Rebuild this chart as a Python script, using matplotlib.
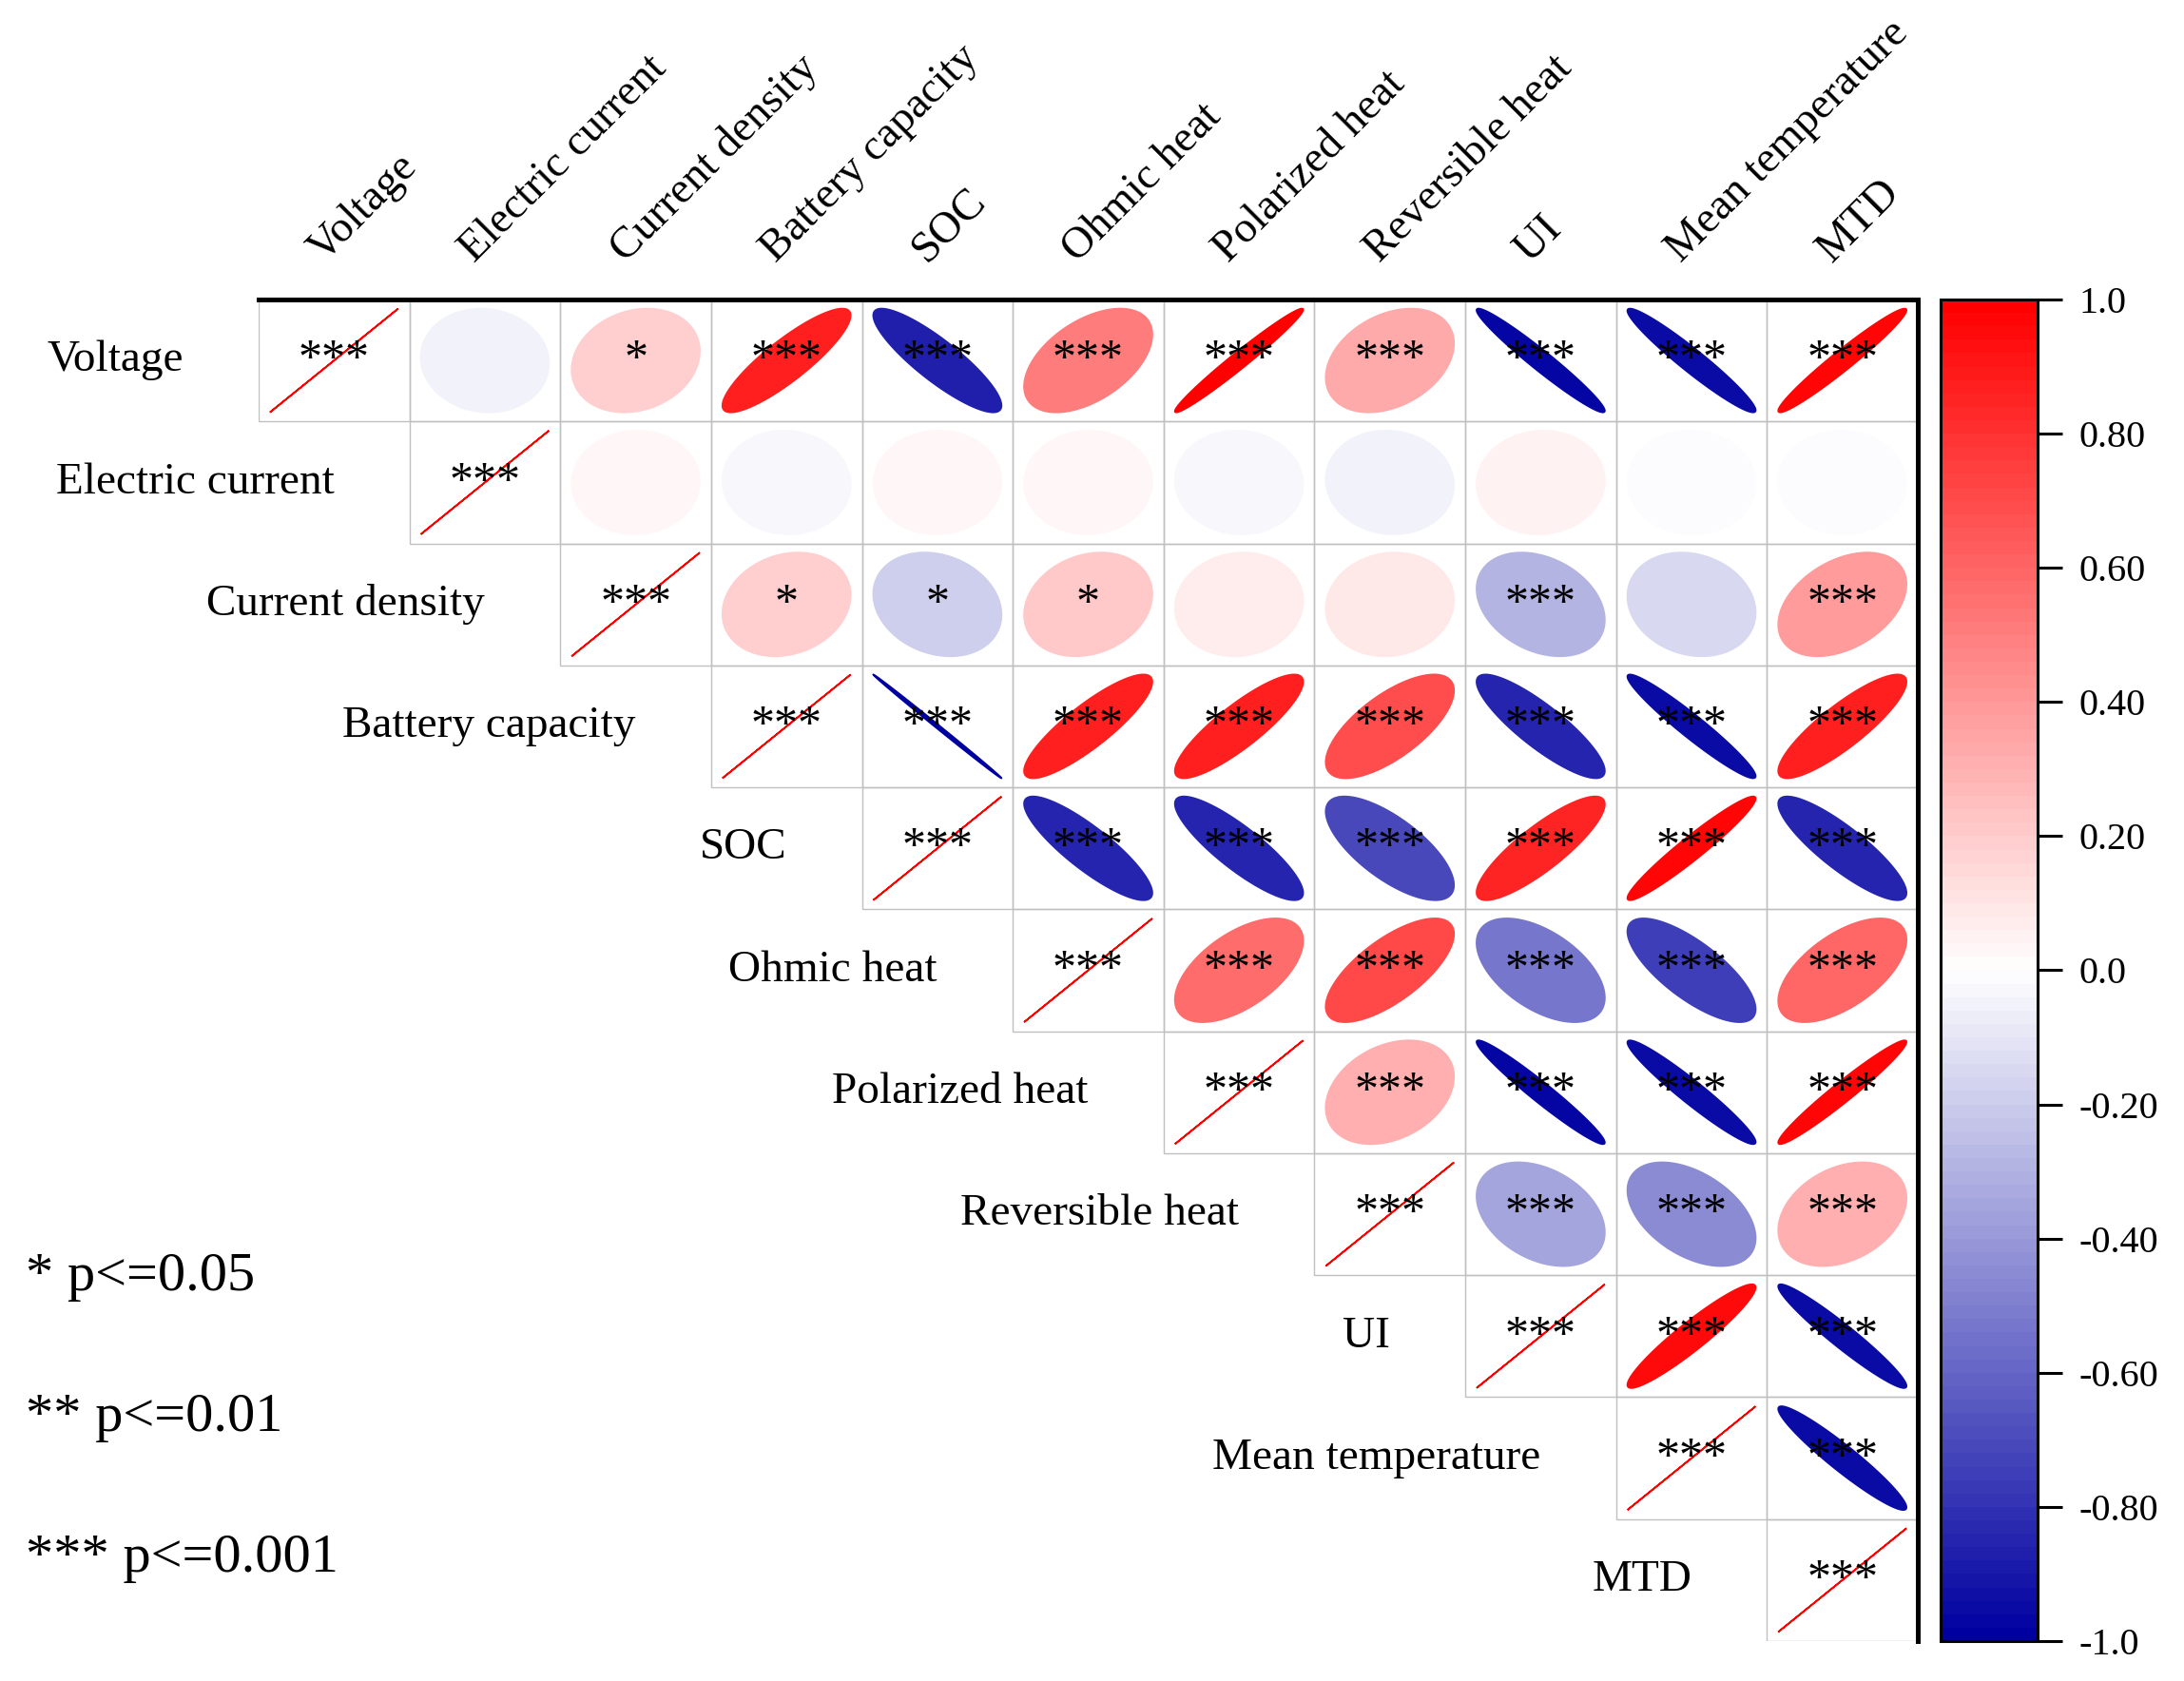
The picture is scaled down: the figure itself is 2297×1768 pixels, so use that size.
"""Correlation ellipse matrix (upper triangle) with significance marks."""
import numpy as np
import matplotlib
matplotlib.use("Agg")
import matplotlib.pyplot as plt
from matplotlib.colors import LinearSegmentedColormap, Normalize
from matplotlib.cm import ScalarMappable
from matplotlib.patches import Rectangle

plt.rcParams["font.family"] = ["Liberation Serif", "DejaVu Serif"]

names = ["Voltage", "Electric current", "Current density", "Battery capacity",
         "SOC", "Ohmic heat", "Polarized heat", "Reversible heat", "UI",
         "Mean temperature", "MTD"]

# upper triangle, row i starts at the diagonal (column i)
r_voltage = [1.0, -0.06, 0.18, 0.87, -0.87, 0.50, 0.98, 0.33, -0.97, -0.96, 0.97]
r_current = [1.0, 0.02, -0.04, 0.02, 0.02, -0.04, -0.06, 0.04, -0.02, -0.02]
r_density = [1.0, 0.18, -0.20, 0.20, 0.07, 0.08, -0.30, -0.16, 0.39]
r_capacity = [1.0, -0.999, 0.86, 0.86, 0.69, -0.86, -0.96, 0.86]
r_soc = [1.0, -0.86, -0.86, -0.71, 0.85, 0.96, -0.86]
r_ohmic = [1.0, 0.57, 0.70, -0.53, -0.75, 0.59]
r_polarized = [1.0, 0.30, -0.97, -0.96, 0.97]
r_reversible = [1.0, -0.35, -0.46, 0.31]
r_ui = [1.0, 0.94, -0.96]
r_meantemp = [1.0, -0.95]
r_mtd = [1.0]

s_voltage = ["***", "", "*", "***", "***", "***", "***", "***", "***", "***", "***"]
s_current = ["***", "", "", "", "", "", "", "", "", ""]
s_density = ["***", "*", "*", "*", "", "", "***", "", "***"]
s_capacity = ["***"] * 8
s_soc = ["***"] * 7
s_ohmic = ["***"] * 6
s_polarized = ["***"] * 5
s_reversible = ["***"] * 4
s_ui = ["***"] * 3
s_meantemp = ["***"] * 2
s_mtd = ["***"]

cb_ticks = [1.0, 0.8, 0.6, 0.4, 0.2, 0.0, -0.2, -0.4, -0.6, -0.8, -1.0]
cb_labels = ["1.0", "0.80", "0.60", "0.40", "0.20", "0.0",
             "-0.20", "-0.40", "-0.60", "-0.80", "-1.0"]
legend_lines = ["* p<=0.05", "** p<=0.01", "*** p<=0.001"]

r_rows = [r_voltage, r_current, r_density, r_capacity, r_soc, r_ohmic,
          r_polarized, r_reversible, r_ui, r_meantemp, r_mtd]
s_rows = [s_voltage, s_current, s_density, s_capacity, s_soc, s_ohmic,
          s_polarized, s_reversible, s_ui, s_meantemp, s_mtd]

cmap = LinearSegmentedColormap.from_list(
    "bwr_origin", [(0.0, 0.0, 0.63), (1.0, 1.0, 1.0), (1.0, 0.0, 0.0)], N=100)
norm = Normalize(vmin=-1, vmax=1)

W, H = 2297, 1768
fig = plt.figure(figsize=(W / 100, H / 100), dpi=100)
x0, x1, y0, y1 = 272, 2017, 315, 1726
ax = fig.add_axes([x0 / W, 1 - y1 / H, (x1 - x0) / W, (y1 - y0) / H])
n = len(names)
ax.set_xlim(0, n)
ax.set_ylim(n, 0)
ax.set_xticks([])
ax.set_yticks([])
for side in ["left", "bottom"]:
    ax.spines[side].set_visible(False)
for side in ["top", "right"]:
    ax.spines[side].set_linewidth(3.6)
    ax.spines[side].set_zorder(10)

t = np.linspace(0, 2 * np.pi, 200)
rad = 0.425
for i in range(n):
    for k, (r, s) in enumerate(zip(r_rows[i], s_rows[i])):
        j = i + k
        ax.add_patch(Rectangle((j, i), 1, 1, fill=False, edgecolor="#c0c0c0",
                               lw=1.0, zorder=1))
        d = np.arccos(np.clip(r, -1, 1))
        ex = j + 0.5 + rad * np.cos(t + d / 2)
        ey = i + 0.5 - rad * np.cos(t - d / 2)
        col = cmap(norm(r))
        ax.fill(ex, ey, facecolor=col, edgecolor=col, lw=1.3, zorder=2)
        if s:
            ax.text(j + 0.5, i + 0.5, s, ha="center", va="center",
                    fontsize=36, zorder=3)

# row labels (left of diagonal) and rotated column labels (top)
for i, name in enumerate(names):
    ax.text(i - 0.5, i + 0.5, name, ha="right", va="center", fontsize=34)
    ax.text(i + 0.43, -0.3, name, rotation=45, rotation_mode="anchor",
            ha="left", va="baseline", fontsize=33.5, clip_on=False)

# colour bar
cax = fig.add_axes([2041 / W, 1 - y1 / H, 102 / W, (y1 - y0) / H])
sm = ScalarMappable(norm=norm, cmap=cmap)
cb = fig.colorbar(sm, cax=cax, ticks=cb_ticks)
cb.set_ticklabels(cb_labels)
cb.outline.set_linewidth(2.2)
cax.tick_params(direction="out", length=19, width=2.2, labelsize=29, pad=12)

# significance legend
for k, line in enumerate(legend_lines):
    fig.text(27 / W, 1 - (1357 + 148 * k) / H, line, fontsize=42,
             va="baseline", ha="left")

fig.savefig("out.png", dpi=100)
